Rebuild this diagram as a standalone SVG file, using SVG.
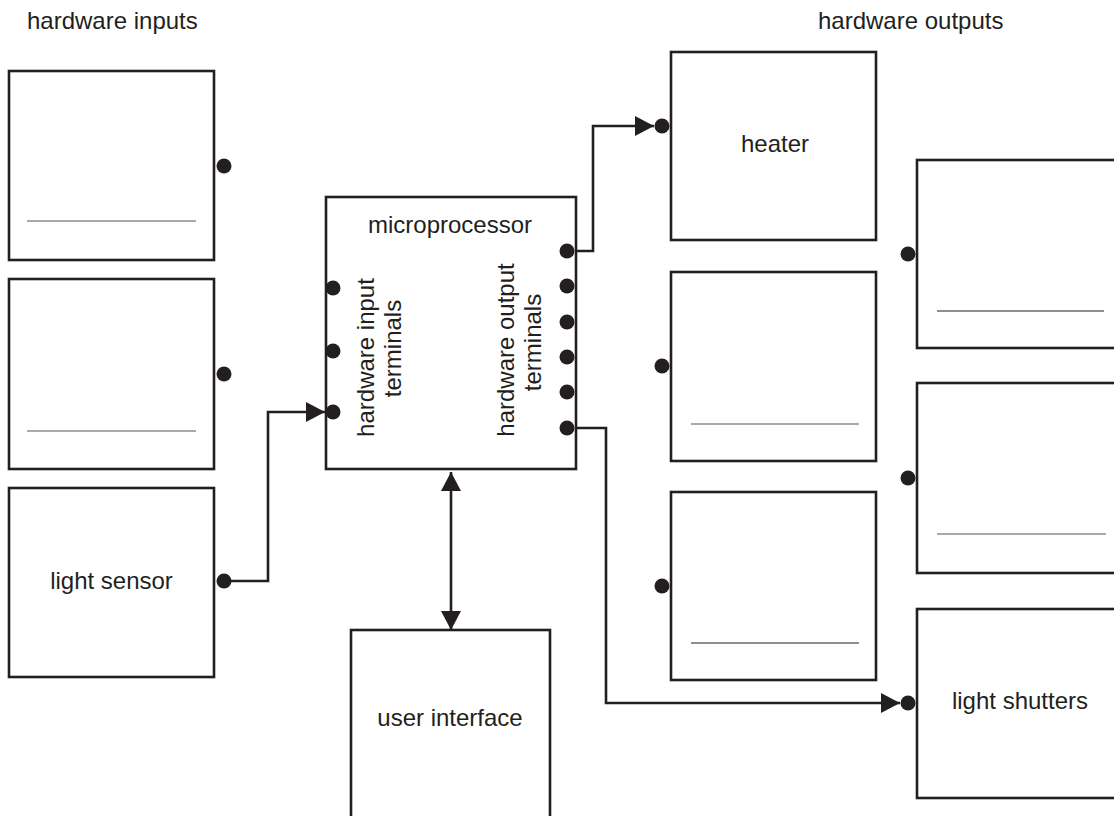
<svg xmlns="http://www.w3.org/2000/svg" width="1114" height="816" viewBox="0 0 1114 816">
  <style>
    .box { fill: #ffffff; stroke: #231f20; stroke-width: 2.6; }
    .sep-g { stroke: #8c8c8c; stroke-width: 1.3; fill: none; }
    .sep-d { stroke: #231f20; stroke-width: 1.1; fill: none; }
    .dot { fill: #231f20; }
    .lbl { font-family: "Liberation Sans", Arial, sans-serif; font-size: 24px; fill: #231f20; }
    .mid { text-anchor: middle; }
    .wire { fill: none; stroke: #231f20; stroke-width: 2.6; }
  </style>
  <defs>
    <marker id="arr" markerUnits="userSpaceOnUse" markerWidth="20" markerHeight="22" refX="19" refY="10" orient="auto-start-reverse" viewBox="0 0 20 20">
      <path d="M0,0 L19,10 L0,20 z" fill="#231f20"/>
    </marker>
  </defs>
  <rect width="1114" height="816" fill="#ffffff"/>

  <text class="lbl" x="27" y="29">hardware inputs</text>
  <text class="lbl" x="818" y="29">hardware outputs</text>

  <g id="connectors">
    <path class="wire" d="M224,581 H268 V412 H325" marker-end="url(#arr)"/>
    <path class="wire" d="M567,251 H593 V126 H654" marker-end="url(#arr)"/>
    <path class="wire" d="M567,428 H606 V703 H900" marker-end="url(#arr)"/>
    <path class="wire" d="M451,472 V630" marker-start="url(#arr)" marker-end="url(#arr)"/>
  </g>

  <g id="input1">
    <rect class="box" x="9" y="71" width="205" height="189"/>
    <line class="sep-g" x1="27" y1="221" x2="196" y2="221"/>
    <circle class="dot" cx="224" cy="166" r="7.5"/>
  </g>
  <g id="input2">
    <rect class="box" x="9" y="279" width="205" height="190"/>
    <line class="sep-g" x1="27" y1="431" x2="196" y2="431"/>
    <circle class="dot" cx="224" cy="374" r="7.5"/>
  </g>
  <g id="light-sensor">
    <rect class="box" x="9" y="488" width="205" height="189"/>
    <text class="lbl mid" x="111.5" y="589">light sensor</text>
    <circle class="dot" cx="224" cy="581" r="7.5"/>
  </g>

  <g id="microprocessor">
    <rect class="box" x="326" y="197" width="250" height="272"/>
    <text class="lbl mid" x="450" y="233">microprocessor</text>
    <text class="lbl mid" transform="translate(374,357.5) rotate(-90)">hardware input</text>
    <text class="lbl mid" transform="translate(401,348.5) rotate(-90)">terminals</text>
    <text class="lbl mid" transform="translate(514,350) rotate(-90)">hardware output</text>
    <text class="lbl mid" transform="translate(541,342.5) rotate(-90)">terminals</text>
    <circle class="dot" cx="333" cy="288" r="7.5"/>
    <circle class="dot" cx="333" cy="351" r="7.5"/>
    <circle class="dot" cx="333" cy="412" r="7.5"/>
    <circle class="dot" cx="567" cy="251" r="7.5"/>
    <circle class="dot" cx="567" cy="286" r="7.5"/>
    <circle class="dot" cx="567" cy="322" r="7.5"/>
    <circle class="dot" cx="567" cy="357" r="7.5"/>
    <circle class="dot" cx="567" cy="392" r="7.5"/>
    <circle class="dot" cx="567" cy="428" r="7.5"/>
  </g>

  <g id="user-interface">
    <rect class="box" x="351" y="630" width="199" height="200"/>
    <text class="lbl mid" x="450" y="726">user interface</text>
  </g>

  <g id="heater">
    <rect class="box" x="671" y="52" width="205" height="188"/>
    <text class="lbl mid" x="775" y="152">heater</text>
    <circle class="dot" cx="662" cy="126" r="7.5"/>
  </g>
  <g id="output2">
    <rect class="box" x="671" y="272" width="205" height="189"/>
    <line class="sep-g" x1="691" y1="424" x2="859" y2="424"/>
    <circle class="dot" cx="662" cy="366" r="7.5"/>
  </g>
  <g id="output3">
    <rect class="box" x="671" y="492" width="205" height="188"/>
    <line class="sep-d" x1="691" y1="643" x2="859" y2="643"/>
    <circle class="dot" cx="662" cy="586" r="7.5"/>
  </g>

  <g id="output4">
    <rect class="box" x="917" y="160" width="220" height="188"/>
    <line class="sep-d" x1="937" y1="311" x2="1104" y2="311"/>
    <circle class="dot" cx="908" cy="254" r="7.5"/>
  </g>
  <g id="output5">
    <rect class="box" x="917" y="383" width="220" height="190"/>
    <line class="sep-g" x1="937" y1="534" x2="1106" y2="534"/>
    <circle class="dot" cx="908" cy="478" r="7.5"/>
  </g>
  <g id="light-shutters">
    <rect class="box" x="917" y="609" width="220" height="189"/>
    <text class="lbl mid" x="1020" y="709">light shutters</text>
    <circle class="dot" cx="908" cy="703" r="7.5"/>
  </g>
</svg>
